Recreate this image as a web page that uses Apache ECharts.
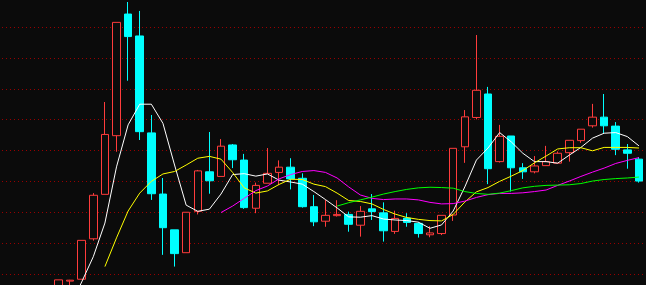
<!DOCTYPE html>
<html>
<head>
<meta charset="utf-8">
<script src="https://cdn.jsdelivr.net/npm/echarts@6/dist/echarts.min.js"></script>
<style>
html,body{margin:0;padding:0;background:#0b0b0b;}
#chart{width:646px;height:285px;}
</style>
</head>
<body>
<div id="chart"></div>
<script>
var categories = ['1','2','3','4','5','6','7','8','9','10','11','12','13','14','15','16','17','18','19','20',
  '21','22','23','24','25','26','27','28','29','30','31','32','33','34','35','36','37','38','39','40',
  '41','42','43','44','45','46','47','48','49','50','51','52','53','54','55','56'];

var opens  = ['-','-','-','-','-',
  10.16,10.77,10.83,12.14,13.58,15.48,19.42,18.71,15.57,13.59,12.43,11.69,13.03,14.31,14.16,15.18,14.69,13.13,13.94,14.29,
  14.46,14.10,13.18,12.71,12.89,12.93,12.58,13.11,12.98,12.38,12.81,12.64,12.27,12.31,12.91,15.12,16.07,16.83,14.64,15.47,
  14.44,14.31,14.51,14.59,14.93,15.32,15.80,16.08,15.79,15.02,14.72];
var closes = ['-','-','-','-','-',
  10.81,10.80,12.09,13.55,15.52,19.15,18.69,15.61,13.60,12.50,11.66,13.00,14.34,14.02,15.14,14.70,13.15,13.87,14.26,14.46,
  14.08,13.18,12.69,12.90,12.93,12.61,13.03,13.02,12.40,12.80,12.67,12.31,12.33,12.90,15.07,16.09,16.95,14.41,15.46,14.44,
  14.31,14.50,14.64,14.91,15.33,15.69,16.08,15.80,15.04,14.91,14.01];
var lows   = ['-','-','-','-','-',
  10.09,10.32,10.83,12.08,13.58,14.96,17.26,15.34,13.40,11.62,11.24,11.69,12.93,13.60,14.16,14.43,13.11,12.97,13.94,13.88,
  13.74,13.15,12.55,12.53,12.86,12.37,12.21,12.75,12.05,12.30,12.53,12.18,12.19,12.26,12.72,14.60,16.01,13.91,14.61,13.67,
  14.08,14.26,14.51,14.59,14.64,15.25,15.74,15.56,14.85,14.41,13.96];
var highs  = ['-','-','-','-','-',
  10.81,10.81,12.09,13.62,16.57,19.15,19.81,19.52,16.15,14.11,12.43,13.00,14.37,15.60,15.37,15.21,14.89,13.96,15.08,14.68,
  14.75,14.26,13.56,13.40,13.39,13.02,13.20,13.59,13.32,13.05,12.97,12.68,12.55,12.90,15.07,16.31,18.74,17.06,15.83,15.47,
  14.59,14.82,15.15,14.97,15.33,15.69,16.51,16.83,15.92,15.21,14.79];

var ma5  = ['-','-','-','-','-','-',
  9.96,10.74,11.56,12.65,14.47,15.83,16.50,16.50,15.88,14.53,13.23,13.03,13.10,13.59,14.22,14.25,14.17,14.24,14.04,
  13.98,13.91,13.67,13.41,13.14,12.85,12.84,12.89,12.78,12.75,12.73,12.68,12.48,12.59,13.04,13.82,14.69,15.08,15.58,15.28,
  14.91,14.64,14.64,14.59,14.85,15.10,15.40,15.56,15.58,15.45,15.15];
var ma10 = ['-','-','-','-','-','-','-','-','-',
  11.24,12.17,13.04,13.62,14.00,14.24,14.32,14.53,14.75,14.81,14.72,14.29,13.79,13.62,13.69,13.90,
  14.07,14.06,13.91,13.83,13.62,13.38,13.35,13.27,13.09,12.94,12.83,12.77,12.73,12.72,12.93,13.33,13.66,13.80,14.00,14.17,
  14.35,14.60,14.82,15.05,15.09,15.09,14.99,15.10,15.10,15.10,15.08];
var ma20 = ['-','-','-','-','-','-','-','-','-','-','-','-','-','-','-','-','-','-','-',
  12.99,13.20,13.45,13.70,13.85,14.08,
  14.22,14.32,14.35,14.29,14.11,13.82,13.56,13.45,13.41,13.43,13.43,13.40,13.32,13.27,13.28,13.36,13.48,13.57,13.61,13.61,
  13.63,13.67,13.72,13.87,14.01,14.16,14.30,14.43,14.58,14.68,14.77];
var ma30 = ['-','-','-','-','-','-','-','-','-','-','-','-','-','-','-','-','-','-','-','-','-','-','-','-','-','-','-','-','-',
  13.20,13.31,13.40,13.49,13.59,13.67,13.74,13.79,13.81,13.80,13.78,13.67,13.61,13.58,13.62,13.70,
  13.79,13.84,13.87,13.88,13.89,13.93,14.01,14.06,14.09,14.11,14.14];

var candleData = categories.map(function (c, i) {
  if (opens[i] === '-') return '-';
  return [opens[i], closes[i], lows[i], highs[i]];
});

function maSeries(name, data, color) {
  return {
    name: name, type: 'line', data: data, symbol: 'none', silent: true,
    smooth: false, connectNulls: false,
    lineStyle: { color: color, width: 1 }, itemStyle: { color: color }
  };
}

var chart = echarts.init(document.getElementById('chart'), null, { renderer: 'canvas' });
chart.setOption({
  animation: false,
  backgroundColor: '#0b0b0b',
  grid: { left: -5.4, top: -3.875, width: 650.16, height: 308.75, containLabel: false, outerBoundsMode: 'none' },
  xAxis: {
    type: 'category', data: categories, boundaryGap: true,
    axisLine: { show: false }, axisTick: { show: false }, axisLabel: { show: false }, splitLine: { show: false }
  },
  yAxis: {
    type: 'value', min: 10, max: 20, interval: 1, scale: false,
    axisLine: { show: false }, axisTick: { show: false }, axisLabel: { show: false },
    splitLine: { show: true, lineStyle: { color: '#990000', width: 1, type: [1, 3], dashOffset: 0.6 } }
  },
  series: [
    {
      name: 'K', type: 'candlestick', data: candleData, barWidth: 8,
      itemStyle: {
        color: '#0b0b0b', color0: '#00ffff',
        borderColor: '#ff3c3c', borderColor0: '#00ffff', borderWidth: 1
      }
    },
    maSeries('MA5', ma5, '#ffffff'),
    maSeries('MA10', ma10, '#ffff00'),
    maSeries('MA20', ma20, '#ff00ff'),
    maSeries('MA30', ma30, '#00ff00')
  ]
});
</script>
</body>
</html>
